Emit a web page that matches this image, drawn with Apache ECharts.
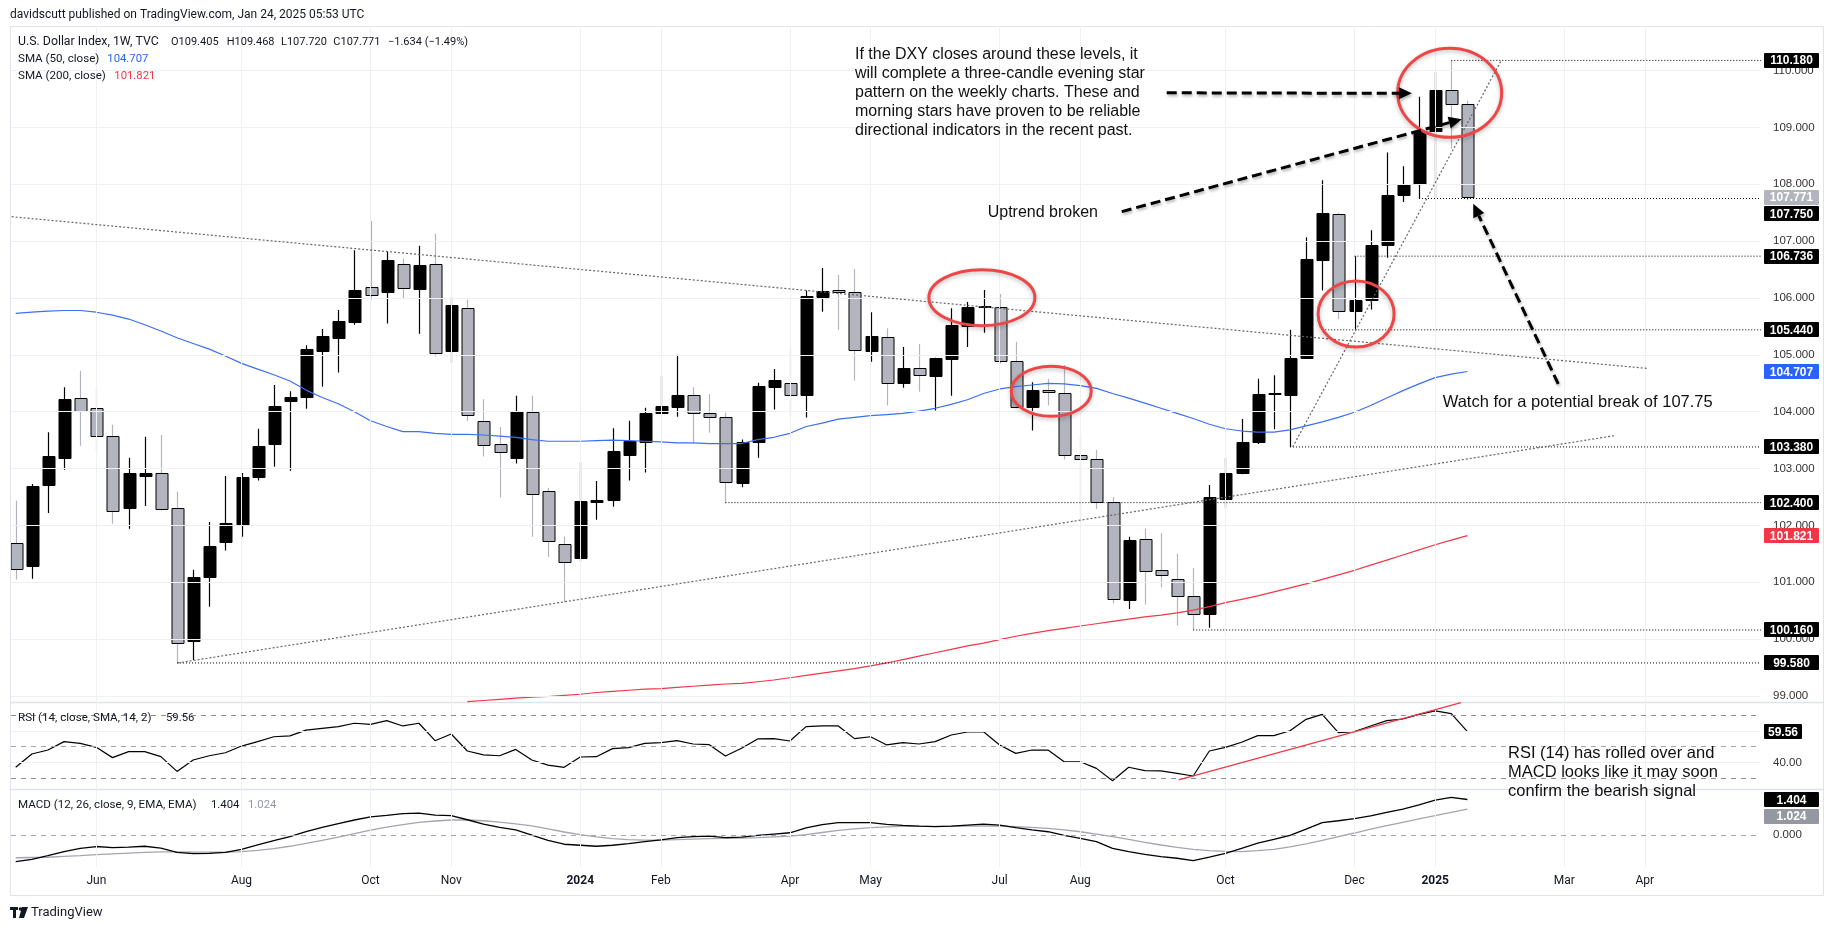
<!DOCTYPE html>
<html><head><meta charset="utf-8">
<script src="https://cdn.jsdelivr.net/npm/echarts@6/dist/echarts.min.js"></script>
<style>html,body{margin:0;padding:0;background:#fff;overflow:hidden}#c{width:1835px;height:931px}</style>
</head><body><div id="c"></div>
<script>
// ---------------- DATA (weekly bars, index 0 = week of 1 May 2023) ----------------
const opens = [101.685,101.29,102.717,103.19,104.24,104.07,103.57,102.31,102.87,102.93,
102.30,99.97,101.10,101.71,102.01,102.86,103.44,104.19,104.265,105.06,
105.30,105.58,106.19,106.11,106.59,106.16,106.59,105.07,105.82,103.83,
103.43,103.19,103.99,102.60,101.67,101.43,102.41,102.45,103.24,103.47,
103.97,104.09,104.29,103.97,103.90,102.75,103.46,104.44,104.50,104.30,
106.02,106.135,106.10,105.07,105.31,104.50,104.77,104.63,104.93,105.51,
105.84,105.85,104.89,104.09,104.38,104.335,103.23,103.16,102.42,100.69,
101.755,101.21,101.05,100.75,100.44,102.47,102.92,103.46,104.32,104.30,
104.94,106.67,107.48,105.77,105.97,106.93,107.81,108.00,108.93,109.66,109.405];
const highs = [102.435,102.73,103.64,104.43,104.72,104.42,103.77,103.19,103.56,103.59,
102.59,101.22,102.06,102.87,102.92,103.70,104.47,104.36,105.17,105.455,
105.79,106.84,107.355,106.82,106.69,106.92,107.13,106.02,105.97,104.22,
103.73,104.28,104.28,102.66,101.80,103.11,102.78,103.71,103.84,104.07,
104.63,105.00,104.43,104.31,103.98,103.51,104.51,104.75,105.12,106.13,
106.53,106.41,106.51,105.75,105.47,105.14,105.19,104.95,105.82,105.93,
106.14,106.07,105.23,104.52,104.58,104.82,103.555,103.33,102.50,101.80,
101.94,101.86,101.50,101.25,102.71,103.19,103.87,104.58,104.64,105.44,
107.07,108.07,107.50,106.736,107.19,108.56,108.32,109.54,109.98,110.18,109.468];
const lows = [101.05,101.063,102.22,102.98,103.40,103.31,102.03,101.94,102.34,102.26,
99.58,99.63,100.57,101.56,101.80,102.79,103.03,102.96,104.05,104.44,
104.69,105.53,105.97,105.55,105.99,105.37,104.97,104.86,103.84,103.21,
102.49,103.09,101.80,101.45,100.65,101.36,102.10,102.33,102.79,102.93,
103.96,103.91,103.44,103.63,102.39,102.67,103.19,104.04,103.93,103.90,
105.76,105.44,104.55,104.88,104.11,104.42,104.35,104.02,104.28,105.14,
105.39,104.85,104.08,103.67,104.11,103.16,102.18,102.29,100.63,100.53,
100.61,100.91,100.24,100.16,100.20,102.30,102.90,103.43,103.69,103.38,
104.93,106.13,105.63,105.44,105.80,106.71,107.69,107.75,107.76,108.63,107.72];
const closes = [101.228,102.69,103.22,104.22,104.02,103.57,102.25,102.92,102.92,102.28,
99.926,101.09,101.64,102.04,102.85,103.40,104.10,104.26,105.10,105.33,
105.60,106.14,106.05,106.67,106.17,106.575,105.03,105.87,103.94,103.41,
103.29,104.02,102.56,101.72,101.35,102.43,102.45,103.31,103.485,103.98,
104.10,104.29,103.97,103.90,102.76,103.47,104.45,104.56,104.29,106.04,
106.12,106.10,105.08,105.33,104.50,104.77,104.64,104.94,105.52,105.84,
105.86,104.89,104.09,104.38,104.34,103.23,103.17,102.42,100.70,101.74,
101.20,101.13,100.75,100.435,102.50,102.92,103.47,104.32,104.33,104.95,
106.68,107.49,105.77,105.97,106.94,107.82,108.01,108.94,109.66,109.405,107.771];
const sma50 = [105.73,105.75,105.77,105.78,105.78,105.75,105.70,105.63,105.53,105.42,
105.30,105.20,105.10,104.98,104.85,104.75,104.65,104.54,104.38,104.25,
104.14,104.00,103.84,103.74,103.65,103.65,103.62,103.60,103.60,103.59,
103.57,103.55,103.51,103.48,103.48,103.48,103.49,103.50,103.49,103.48,
103.47,103.45,103.45,103.44,103.44,103.44,103.51,103.55,103.62,103.74,
103.80,103.87,103.90,103.93,103.95,103.97,104.01,104.06,104.13,104.21,
104.32,104.40,104.44,104.47,104.50,104.49,104.46,104.41,104.32,104.24,
104.15,104.06,103.97,103.88,103.78,103.70,103.66,103.64,103.64,103.68,
103.75,103.82,103.90,103.99,104.11,104.24,104.37,104.49,104.60,104.66,104.707];
const sma200FirstIndex = 28;
const sma200 = [98.90,98.92,98.94,98.96,98.98,98.99,99.01,99.03,99.06,99.08,
99.10,99.12,99.13,99.15,99.17,99.19,99.21,99.22,99.25,99.28,
99.32,99.36,99.40,99.44,99.48,99.53,99.58,99.64,99.70,99.76,
99.82,99.88,99.93,99.99,100.05,100.10,100.15,100.19,100.23,100.27,
100.31,100.35,100.39,100.42,100.46,100.51,100.57,100.64,100.70,100.76,
100.83,100.90,100.97,101.05,101.13,101.21,101.30,101.39,101.48,101.57,
101.66,101.74,101.821];
const rsi = [37.0,45.4,47.9,53.2,52.1,49.6,43.1,46.9,46.9,43.7,
34.4,41.6,44.3,46.2,50.4,53.2,56.3,56.8,60.5,61.6,
62.7,64.8,64.1,66.5,63.1,64.8,53.8,58.0,47.3,44.8,
44.3,48.3,41.6,38.4,37.0,43.5,43.7,48.8,49.4,52.1,
52.6,53.8,51.7,51.3,44.1,49.0,54.9,55.1,53.6,62.7,
63.1,63.1,55.1,56.3,51.1,52.6,51.7,53.2,57.4,59.3,
59.5,51.1,45.8,47.9,47.9,40.5,40.5,36.3,28.5,37.0,
34.9,34.7,33.2,31.5,47.3,49.6,52.8,57.0,57.0,60.1,
67.3,70.4,58.9,59.5,63.1,66.5,67.5,70.4,72.6,70.9,59.56];
const macd = [-1.03,-0.94,-0.80,-0.64,-0.51,-0.44,-0.48,-0.46,-0.43,-0.50,
-0.67,-0.72,-0.71,-0.67,-0.55,-0.38,-0.21,-0.05,0.14,0.31,
0.46,0.60,0.72,0.78,0.85,0.87,0.79,0.77,0.61,0.44,
0.31,0.21,0.01,-0.20,-0.35,-0.39,-0.43,-0.39,-0.33,-0.25,
-0.18,-0.09,-0.05,-0.03,-0.09,-0.07,0.00,0.05,0.10,0.29,
0.42,0.50,0.50,0.50,0.43,0.39,0.36,0.34,0.36,0.40,
0.44,0.40,0.30,0.21,0.14,0.00,-0.12,-0.25,-0.51,-0.64,
-0.75,-0.84,-0.90,-0.99,-0.86,-0.71,-0.51,-0.31,-0.16,0.00,
0.24,0.50,0.57,0.65,0.76,0.90,1.03,1.19,1.38,1.49,1.404];
const macdSignal = [-0.88,-0.87,-0.86,-0.83,-0.80,-0.76,-0.73,-0.70,-0.67,-0.65,
-0.65,-0.66,-0.66,-0.66,-0.64,-0.59,-0.52,-0.43,-0.32,-0.20,
-0.07,0.07,0.20,0.32,0.42,0.51,0.56,0.60,0.60,0.57,
0.52,0.45,0.37,0.25,0.13,0.03,-0.06,-0.13,-0.17,-0.19,
-0.19,-0.17,-0.15,-0.13,-0.12,-0.11,-0.09,-0.06,-0.03,0.03,
0.11,0.19,0.25,0.30,0.33,0.35,0.35,0.35,0.35,0.36,
0.37,0.36,0.34,0.31,0.27,0.21,0.14,0.05,-0.05,-0.16,
-0.28,-0.38,-0.47,-0.55,-0.60,-0.63,-0.64,-0.60,-0.55,-0.45,
-0.34,-0.20,-0.05,0.09,0.24,0.38,0.51,0.64,0.77,0.90,1.024];
const monthTickIdx = [5,14,22,27,35,40,48,53,61,66,75,83,88,96,101];
const monthTickLabels = ['Jun','Aug','Oct','Nov','2024','Feb','Apr','May','Jul','Aug','Oct','Dec','2025','Mar','Apr'];
const priceTicks = [99,100,101,102,103,104,105,106,107,108,109,110];
const levelPrices = [110.18,107.75,106.736,105.44,103.38,102.40,100.16,99.58];
const levelFromIdx = [89,87,83,81,79,44,73,10];
const trendFrom = [[-0.25,107.43],[10.05,99.58],[79.17,103.38]];
const trendTo   = [[101.2,104.76],[99.15,103.58],[92.1,110.18]];
const rsiTrendFrom = [72.1,29.0];
const rsiTrendTo = [89.6,77.8];

// ---------------- LAYOUT ----------------
const X_MIN = -0.291, X_MAX = 108.139;
const GL = 11, GR = 75;
const P_MIN = 98.888, P_MAX = 110.785;
const R_MIN = 23.09, R_MAX = 78.05;
const M_MIN = -1.243, M_MAX = 1.804;
const UI = 'Roboto, "Liberation Sans", sans-serif';
const AR = '"Liberation Sans", Arial, sans-serif';
const GRIDC = '#eef0f4';
const TXT = '#131722';

const chart = echarts.init(document.getElementById('c'), null, {renderer:'canvas'});

function xAxisDef(g, showLabels){
  return {type:'value', gridIndex:g, min:X_MIN, max:X_MAX,
    axisLine:{show:false}, axisTick:{show:false}, splitLine:{show:false},
    axisLabel: showLabels ? {show:true, customValues: monthTickIdx, margin:8,
      color:TXT, fontSize:12, fontFamily:UI,
      formatter: v => { const k = monthTickIdx.indexOf(Math.round(v)); if (k<0) return '';
        const s = monthTickLabels[k]; return /^\d{4}$/.test(s) ? '{b|'+s+'}' : s; },
      rich:{b:{fontWeight:'bold', fontSize:12, fontFamily:UI, color:TXT}}} : {show:false}};
}
function yAxisDef(g, mn, mx, ticks, fmt){
  return {type:'value', gridIndex:g, position:'right', min:mn, max:mx, scale:true,
    axisLine:{show:false}, axisTick:{show:false}, splitLine:{show:false},
    axisLabel:{show:true, customValues:ticks, formatter:fmt, margin:13, align:'left',
      color:'#333', fontSize:11.5, fontFamily:AR}};
}
const vLines = monthTickIdx.map(i => ({xAxis:i}));
function gridSeries(g, hLines){
  return {type:'line', xAxisIndex:g, yAxisIndex:g, data:[], z:0, silent:true,
    markLine:{silent:true, symbol:['none','none'], animation:false, label:{show:false},
      lineStyle:{color:GRIDC, width:1, type:'solid'}, emphasis:{disabled:true},
      data: vLines.concat(hLines)}};
}
const candleData = opens.map((o,i)=>[i,o,closes[i],lows[i],highs[i]]);

const series = [
  gridSeries(0, priceTicks.map(v=>({yAxis:v}))),
  gridSeries(1, [{yAxis:40},{yAxis:60},
     {yAxis:70, lineStyle:{color:'#8a8d96', type:[5,5]}},
     {yAxis:50, lineStyle:{color:'#a3a6ae', type:[5,5]}},
     {yAxis:30, lineStyle:{color:'#8a8d96', type:[5,5]}}]),
  gridSeries(2, [{yAxis:0, lineStyle:{color:'#a3a6ae', type:[5,5]}}]),
  {type:'custom', name:'DXY', xAxisIndex:0, yAxisIndex:0, z:3, clip:true,
    encode:{x:0, y:[1,2,3,4]}, data:candleData,
    renderItem:(params, api)=>{
      const i=api.value(0), o=api.value(1), c=api.value(2), l=api.value(3), h=api.value(4);
      const pO=api.coord([i,o]), pC=api.coord([i,c]), pL=api.coord([i,l]), pH=api.coord([i,h]);
      const w=Math.round(api.size([1,0])[0]*0.74);
      const up=c>=o;
      const x=Math.round(pO[0])+0.5;
      const top=Math.round(Math.min(pO[1],pC[1]))+0.5, bot=Math.round(Math.max(pO[1],pC[1]))+0.5;
      return {type:'group', children:[
        {type:'line', shape:{x1:x,y1:pH[1],x2:x,y2:pL[1]}, style:{stroke: up?'#000':'#b2b5be', lineWidth:1.2}},
        {type:'rect', shape:{x:Math.round(x-w/2), y:top, width:w, height:Math.max(bot-top,1)},
          style:{fill: up?'#000':'#b2b5be', stroke:'#000', lineWidth:1}}
      ]};
    }},
  {type:'line', name:'SMA50', xAxisIndex:0, yAxisIndex:0, z:4, showSymbol:false, silent:true,
    data: sma50.map((v,i)=>[i,v]), lineStyle:{color:'#3d6ff5', width:1.2}},
  {type:'line', name:'SMA200', xAxisIndex:0, yAxisIndex:0, z:4, showSymbol:false, silent:true,
    data: sma200.map((v,k)=>[k+sma200FirstIndex,v]), lineStyle:{color:'#f23645', width:1.2}},
];
levelPrices.forEach((p,k)=>{
  series.push({type:'line', xAxisIndex:0, yAxisIndex:0, z:5, showSymbol:false, silent:true,
    data:[[levelFromIdx[k],p],[X_MAX+2,p]], lineStyle:{color:'#000', width:1, type:[1,2]}});
});
trendFrom.forEach((a,k)=>{
  series.push({type:'line', xAxisIndex:0, yAxisIndex:0, z:5, showSymbol:false, silent:true,
    data:[a, trendTo[k]], lineStyle:{color:'#666', width:1.2, type:[2,2]}});
});
series.push({type:'line', name:'RSI', xAxisIndex:1, yAxisIndex:1, z:4, showSymbol:false, silent:true,
  data: rsi.map((v,i)=>[i,v]), lineStyle:{color:'#000', width:1.2}});
series.push({type:'line', xAxisIndex:1, yAxisIndex:1, z:5, showSymbol:false, silent:true,
  data:[rsiTrendFrom, rsiTrendTo], lineStyle:{color:'#f23645', width:1.2}});
series.push({type:'line', name:'Signal', xAxisIndex:2, yAxisIndex:2, z:4, showSymbol:false, silent:true,
  data: macdSignal.map((v,i)=>[i,v]), lineStyle:{color:'#a3a6ae', width:1.3}});
series.push({type:'line', name:'MACD', xAxisIndex:2, yAxisIndex:2, z:4, showSymbol:false, silent:true,
  data: macd.map((v,i)=>[i,v]), lineStyle:{color:'#000', width:1.3}});

chart.setOption({
  animation:false, backgroundColor:'#fff',
  grid:[
    {left:GL, right:GR, top:26, height:676.3},
    {left:GL, right:GR, top:702.3, height:87},
    {left:GL, right:GR, top:789.3, height:77.7}
  ],
  xAxis:[xAxisDef(0,false), xAxisDef(1,false), xAxisDef(2,true)],
  yAxis:[
    yAxisDef(0, P_MIN, P_MAX, priceTicks, v=>v.toFixed(3)),
    yAxisDef(1, R_MIN, R_MAX, [40], v=>v.toFixed(2)),
    yAxisDef(2, M_MIN, M_MAX, [0], v=>v.toFixed(3))
  ],
  series
});

// ---------------- ANNOTATIONS ----------------
const px = (g, x, y) => chart.convertToPixel({gridIndex:g}, [x, y]);
const G = [];
const RED = '#ee4646';
// frame + pane separators
G.push({type:'rect', shape:{x:10.5, y:26.5, width:1813, height:869}, style:{fill:'none', stroke:'#e0e3eb', lineWidth:1}, z:1, silent:true});
G.push({type:'line', shape:{x1:11, y1:702.5, x2:1823, y2:702.5}, style:{stroke:'#e0e3eb', lineWidth:1.5}, z:1});
G.push({type:'line', shape:{x1:11, y1:789.5, x2:1823, y2:789.5}, style:{stroke:'#e0e3eb', lineWidth:1.5}, z:1});

function txt(x, y, text, size, fill, font, extra){
  return Object.assign({type:'text', x, y, z:50, style:Object.assign({text, fontSize:size, fontFamily:font||UI, fill:fill||TXT, textVerticalAlign:'middle'}, extra||{})});
}
// header & legends
G.push(txt(10, 15, 'davidscutt published on TradingView.com, Jan 24, 2025 05:53 UTC', 12, TXT));
const L = opens.length-1;
const chg = closes[L]-closes[L-1], pct = chg/closes[L-1]*100;
const fmtS = v => (v<0?'\u2212':'+') + Math.abs(v).toFixed(3);
G.push(txt(18, 42.3, 'U.S. Dollar Index, 1W, TVC', 12.3));
G.push(txt(171, 42.3, 'O' + opens[L].toFixed(3), 11));
G.push(txt(226.7, 42.3, 'H' + highs[L].toFixed(3), 11));
G.push(txt(281, 42.3, 'L' + lows[L].toFixed(3), 11));
G.push(txt(333.3, 42.3, 'C' + closes[L].toFixed(3), 11));
G.push(txt(388, 42.3, fmtS(chg) + ' (' + (pct<0?'\u2212':'+') + Math.abs(pct).toFixed(2) + '%)', 11));
G.push(txt(18, 59.3, 'SMA (50, close)', 11.6));
G.push(txt(107.3, 59.3, sma50[L].toFixed(3), 11.3, '#2962ff'));
G.push(txt(18, 76.3, 'SMA (200, close)', 11.6));
G.push(txt(114.3, 76.3, sma200[sma200.length-1].toFixed(3), 11.3, '#f23645'));
G.push(txt(18, 718.3, 'RSI (14, close, SMA, 14, 2)', 11.6));
G.push(txt(166, 718.3, rsi[L].toFixed(2), 11.3));
G.push(txt(18, 805, 'MACD (12, 26, close, 9, EMA, EMA)', 11.6));
G.push(txt(211, 805, macd[L].toFixed(3), 11.3));
G.push(txt(248, 805, macdSignal[L].toFixed(3), 11.3, '#9598a1'));
// TradingView logo
G.push({type:'rect', shape:{x:10, y:907, width:8, height:3}, style:{fill:'#131722'}, z:50});
G.push({type:'rect', shape:{x:13, y:907, width:3, height:11}, style:{fill:'#131722'}, z:50});
G.push({type:'circle', shape:{cx:20.5, cy:909, r:1.8}, style:{fill:'#131722'}, z:50});
G.push({type:'polygon', shape:{points:[[22,907],[28,907],[24,918],[19,918]]}, style:{fill:'#131722'}, z:50});
G.push(txt(31, 912.7, 'TradingView', 13));

// text notes
G.push(txt(855, 45.6, 'If the DXY closes around these levels, it\nwill complete a three-candle evening star\npattern on the weekly charts. These and\nmorning stars have proven to be reliable\ndirectional indicators in the recent past.', 16, '#111', AR, {textVerticalAlign:'top', lineHeight:18.8}));
G.push(txt(987.7, 212.7, 'Uptrend broken', 16, '#111', AR));
G.push(txt(1442.7, 402.3, 'Watch for a potential break of 107.75', 16.5, '#111', AR));
G.push(txt(1508, 743.4, 'RSI (14) has rolled over and\nMACD looks like it may soon\nconfirm the bearish signal', 16.5, '#111', AR, {textVerticalAlign:'top', lineHeight:19.3}));

// red ellipses (centres in data space, radii in px)
const ellipses = [[59.9,106.005,53,28],[64.2,104.36,40,25],[83.1,105.72,38,33],[88.9,109.61,52,44.5]];
ellipses.forEach(e=>{
  const c = px(0, e[0], e[1]);
  G.push({type:'ellipse', shape:{cx:c[0], cy:c[1], rx:e[2], ry:e[3]}, z:60,
    style:{fill:'none', stroke:RED, lineWidth:3, shadowBlur:4, shadowColor:'rgba(0,0,0,0.25)', shadowOffsetY:2}});
});
// dashed arrows
function arrow(a, b){
  const p0 = px(0, a[0], a[1]), p1 = px(0, b[0], b[1]);
  const dx=p1[0]-p0[0], dy=p1[1]-p0[1], len=Math.hypot(dx,dy), ux=dx/len, uy=dy/len;
  const hl=13, hw=6, bx=p1[0]-ux*hl, by=p1[1]-uy*hl;
  G.push({type:'line', shape:{x1:p0[0],y1:p0[1],x2:bx,y2:by}, z:60,
    style:{stroke:'#000', lineWidth:3, lineDash:[10,5], shadowBlur:3, shadowColor:'rgba(0,0,0,0.3)', shadowOffsetX:1, shadowOffsetY:2}});
  G.push({type:'polygon', shape:{points:[[p1[0],p1[1]],[bx-uy*hw,by+ux*hw],[bx+uy*hw,by-ux*hw]]}, z:60,
    style:{fill:'#000', shadowBlur:3, shadowColor:'rgba(0,0,0,0.3)', shadowOffsetX:1, shadowOffsetY:2}});
}
arrow([71.36,109.61],[86.56,109.60]);
arrow([68.57,107.52],[89.65,109.145]);
arrow([95.63,104.49],[90.36,107.657]);

// price-scale badges
const badges = [
  [0, levelPrices[0], '#000', '#fff'],
  [0, closes[L], '#b2b5be', '#fff'],
  [0, levelPrices[1], '#000', '#fff'],
  [0, levelPrices[2], '#000', '#fff'],
  [0, levelPrices[3], '#000', '#fff'],
  [0, sma50[L], '#2962ff', '#fff'],
  [0, levelPrices[4], '#000', '#fff'],
  [0, levelPrices[5], '#000', '#fff'],
  [0, sma200[sma200.length-1], '#f23645', '#fff'],
  [0, levelPrices[6], '#000', '#fff'],
  [0, levelPrices[7], '#000', '#fff'],
  [1, rsi[L], '#000', '#fff', 2],
  [2, macd[L], '#000', '#fff'],
  [2, macdSignal[L], '#9598a1', '#fff']
];
let prevY = {}, BH = 15;
badges.forEach(b=>{
  let y = px(b[0], 50, b[1])[1];
  if (prevY[b[0]] !== undefined && y < prevY[b[0]] + BH + 1.5) y = prevY[b[0]] + BH + 1.5;
  prevY[b[0]] = y;
  const t = b[0]===1 ? b[1].toFixed(2) : b[1].toFixed(3);
  G.push({type:'rect', shape:{x:1764, y:Math.round(y-BH/2), width:b[0]===1?38:55, height:BH, r:1}, style:{fill:b[2]}, z:70});
  G.push({type:'text', x:(b[0]===1?1764+19:1764+27.5), y:Math.round(y)+0.5, z:71,
    style:{text:t, fontSize:12, fontFamily:AR, fontWeight:'bold', fill:b[3], textAlign:'center', textVerticalAlign:'middle'}});
});

chart.setOption({graphic: G});
</script>
</body></html>
